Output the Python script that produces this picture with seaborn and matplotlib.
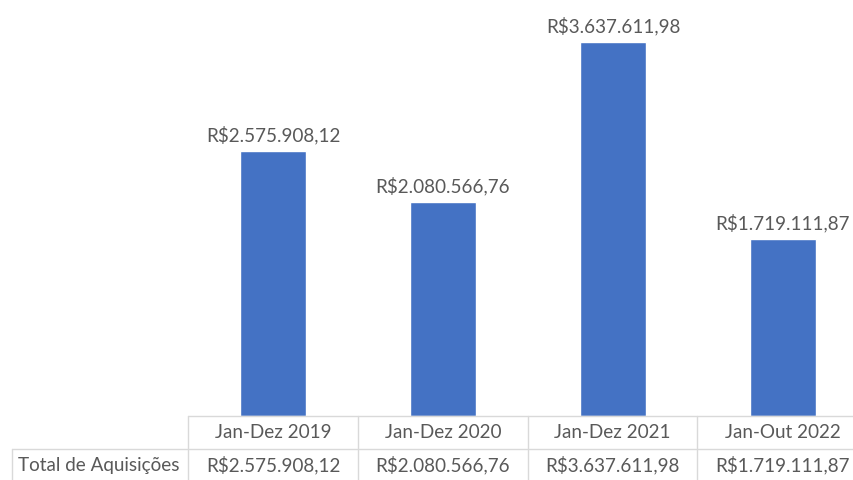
import matplotlib
matplotlib.use("Agg")
import matplotlib.pyplot as plt
import seaborn as sns
from matplotlib.lines import Line2D

sns.set_theme(style="white")
plt.rcParams["font.family"] = ["Lato", "DejaVu Sans"]

periods = ["Jan-Dez 2019", "Jan-Dez 2020", "Jan-Dez 2021", "Jan-Out 2022"]
values = [2575908.12, 2080566.76, 3637611.98, 1719111.87]
row_label = "Total de Aquisições"

BAR_COLOR = "#4472C4"
TEXT_COLOR = "#595959"
GRID_COLOR = "#D9D9D9"
W, H = 854, 480
FS = 13.6


def brl(v):
    s = f"{v:,.2f}"
    return "R$" + s.replace(",", "X").replace(".", ",").replace("X", ".")


def fx(px):
    return px / W


def fy(py):
    return 1 - py / H


fig = plt.figure(figsize=(W / 100, H / 100), dpi=100)
ax = fig.add_axes([fx(188), fy(416), 680 / W, (416 - 5) / H])

sns.barplot(x=periods, y=values, color=BAR_COLOR, width=0.39, saturation=1, ax=ax)
ax.set_xlim(-0.5, 3.5)
ax.set_ylim(0, 4_000_000)
ax.axis("off")

for i, v in enumerate(values):
    ax.annotate(brl(v), (i, v), xytext=(0, 5), textcoords="offset points",
                ha="center", va="bottom", fontsize=FS, color=TEXT_COLOR)

# data table under the chart
line_kw = dict(color=GRID_COLOR, lw=1, transform=fig.transFigure)
fig.add_artist(Line2D([fx(188), 1], [fy(416), fy(416)], **line_kw))
fig.add_artist(Line2D([fx(12), 1], [fy(449), fy(449)], **line_kw))
fig.add_artist(Line2D([fx(12), fx(12)], [fy(449), fy(480)], **line_kw))
col_edges = [188, 358, 528, 697, 868]
for x in col_edges[:-1]:
    fig.add_artist(Line2D([fx(x), fx(x)], [fy(416), fy(480)], **line_kw))

for i, (p, v) in enumerate(zip(periods, values)):
    cx = (col_edges[i] + col_edges[i + 1]) / 2
    fig.text(fx(cx), fy(432), p, ha="center", va="center", fontsize=FS, color=TEXT_COLOR)
    fig.text(fx(cx), fy(465), brl(v), ha="center", va="center", fontsize=FS, color=TEXT_COLOR)
fig.text(fx(99), fy(465), row_label, ha="center", va="center", fontsize=FS, color=TEXT_COLOR)

fig.savefig("out.png", dpi=100)
